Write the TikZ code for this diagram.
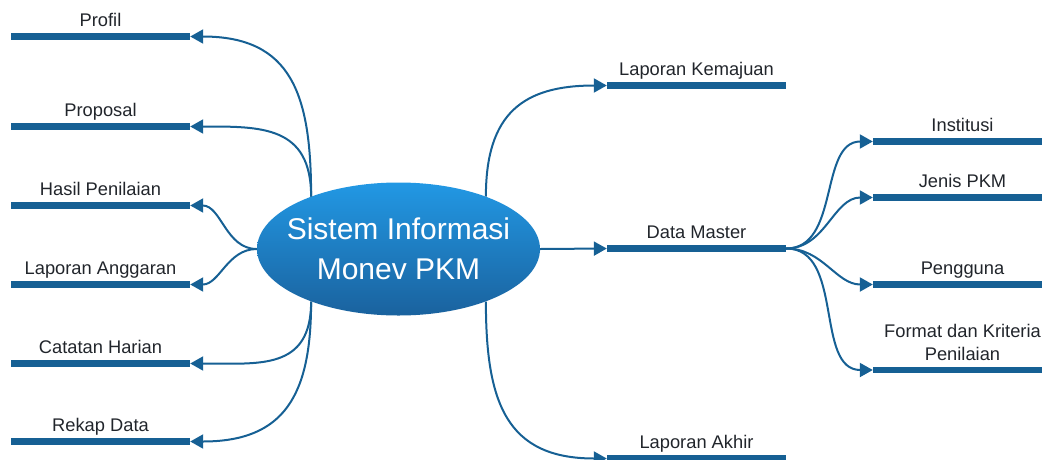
\documentclass[tikz,border=0pt]{standalone}
\usepackage{fontspec}
\setmainfont{Liberation Sans}
\usetikzlibrary{shapes.geometric,arrows.meta}
\definecolor{pkm}{RGB}{22,96,148}
\definecolor{pkmtop}{RGB}{34,152,228}
\definecolor{pkmbot}{RGB}{26,98,158}
\definecolor{ink}{RGB}{33,37,43}
\tikzset{
    EL/.style ={ellipse,minimum width = 283pt, minimum height = 133pt, inner sep=0pt,
        top color=pkmtop, bottom color=pkmbot},
    TT/.style ={text=white,align=center,font=\fontsize{30}{40}\selectfont},
    BR/.style ={rectangle,minimum width = 179pt, minimum height = 6.5pt, inner sep=0pt, fill=pkm},
    LB/.style ={inner sep=1.5pt,text depth=4.5pt,text=ink,align=center,
        font=\fontsize{18.3}{23}\selectfont},
    AR/.style ={draw=pkm,line width=2pt,-{Triangle[length=13pt,width=14pt]}}}

\begin{document}
\begin{tikzpicture}[x=1pt,y=-1pt]
    \useasboundingbox (0,0) rectangle (1042,459);
    \node(sim)[EL,label={[TT,name=judul]center:Sistem Informasi\\Monev PKM}] at(398.5,249){};
    % kiri
    \node(profil)[BR,label={[LB]above:Profil}] at(100.5,36.5){};
    \node(proposal)[BR,label={[LB]above:Proposal}] at(100.5,126.5){};
    \node(hasil)[BR,label={[LB]above:Hasil Penilaian}] at(100.5,205.5){};
    \node(anggaran)[BR,label={[LB]above:Laporan Anggaran}] at(100.5,284.5){};
    \node(catatan)[BR,label={[LB]above:Catatan Harian}] at(100.5,363.5){};
    \node(rekap)[BR,label={[LB]above:Rekap Data}] at(100.5,441.5){};
    % kanan
    \node(kemajuan)[BR,label={[LB]above:Laporan Kemajuan}] at(696.5,85.5){};
    \node(master)[BR,label={[LB]above:Data Master}] at(696.5,248.5){};
    \node(akhir)[BR,label={[LB]above:Laporan Akhir}] at(696.5,458.5){};
    \node(institusi)[BR,label={[LB]above:Institusi}] at(962.5,141.5){};
    \node(jenis)[BR,label={[LB]above:Jenis PKM}] at(962.5,197.5){};
    \node(pengguna)[BR,label={[LB]above:Pengguna}] at(962.5,284.5){};
    \node(format)[BR,label={[LB]above:Format dan Kriteria\\Penilaian}] at(962.5,370){};
    % cabang
    \draw[AR] (sim.149) to[out=90,in=0,looseness=1.3] (profil.east);
    \draw[AR] (sim.149) to[out=90,in=0,looseness=1.3] (proposal.east);
    \draw[AR] (sim.west) to[out=180,in=0] (hasil.east);
    \draw[AR] (sim.west) to[out=180,in=0] (anggaran.east);
    \draw[AR] (sim.211) to[out=-90,in=0,looseness=1.3] (catatan.east);
    \draw[AR] (sim.211) to[out=-90,in=0,looseness=1.3] (rekap.east);
    \draw[AR] (sim.31) to[out=90,in=180,looseness=1.3] (kemajuan.west);
    \draw[AR] (sim.east) -- (master.west);
    \draw[AR] (sim.-31) to[out=-90,in=180,looseness=1.3] (akhir.west);
    \draw[AR] (master.east) to[out=0,in=180] (institusi.west);
    \draw[AR] (master.east) to[out=0,in=180] (jenis.west);
    \draw[AR] (master.east) to[out=0,in=180] (pengguna.west);
    \draw[AR] (master.east) to[out=0,in=180] (format.west);
\end{tikzpicture}
\end{document}
